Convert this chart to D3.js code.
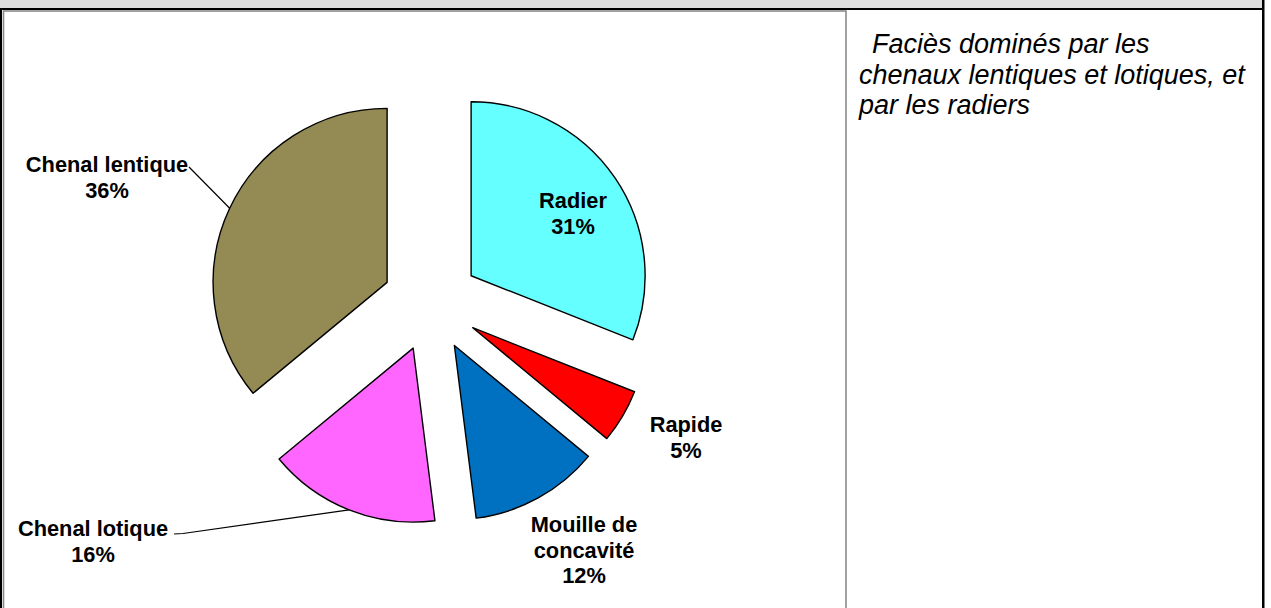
<!DOCTYPE html>
<html>
<head>
<meta charset="utf-8">
<script src="https://cdn.jsdelivr.net/npm/d3@7"></script>
<style>
  html, body { margin: 0; padding: 0; background: #ffffff; }
  svg { display: block; }
</style>
</head>
<body>
<svg id="chart" width="1271" height="608"></svg>
<script>
// Faciès d'écoulement : part de chaque type (en %)
const categories = ["Radier", "Rapide", "Mouille de concavité", "Chenal lotique", "Chenal lentique"];
const shares = [31, 5, 12, 16, 36];
const labelLines = [
  ["Radier", "31%"],
  ["Rapide", "5%"],
  ["Mouille de", "concavité", "12%"],
  ["Chenal lotique", "16%"],
  ["Chenal lentique", "36%"]
];
const sliceColors = ["#66FFFF", "#FF0000", "#0070C0", "#FF66FF", "#948A54"];
const noteLines = ["Faciès dominés par les", "chenaux lentiques et lotiques, et", "par les radiers"];

// Layout
const W = 1271, H = 608;
const cx = 431, cy = 303, radius = 174, explode = 48.5;
const labelFont = 21.8, labelLead = 25.5;
// label anchor (centre x, first baseline) relative to the pie centre, plus leader flag
const labelLayout = [
  { dx: 142, dy: -95, leader: null },
  { dx: 255, dy: 129, leader: null },
  { dx: 153, dy: 229, leader: null },
  { dx: -338, dy: 233, leader: { x: 174, y: 534, bend: 9 } },
  { dx: -324, dy: -131, leader: { x: 189, y: 167, bend: 0 } }
];
const noteX = [872, 859, 859];

const svg = d3.select("#chart");

// Frame: grey header band, black rules, chart area border
svg.append("rect").attr("x", 0).attr("y", 0).attr("width", 1262).attr("height", 8).attr("fill", "#dfdfdf");
svg.append("rect").attr("x", 0).attr("y", 8).attr("width", 1264).attr("height", 2).attr("fill", "#000");
svg.append("rect").attr("x", 0).attr("y", 8).attr("width", 2).attr("height", H).attr("fill", "#000");
svg.append("rect").attr("x", 1262).attr("y", 0).attr("width", 2.5).attr("height", H).attr("fill", "#000");
svg.append("rect").attr("x", 3.5).attr("y", 11).attr("width", 842.5).attr("height", H + 10)
  .attr("fill", "#fff").attr("stroke", "#8a8a8a").attr("stroke-width", 1.6);

// Pie
const pie = d3.pie().sort(null).value(d => d)(shares);
const arc = d3.arc().innerRadius(0).outerRadius(radius);
const mid = d => (d.startAngle + d.endAngle) / 2;
const offset = d => [explode * Math.sin(mid(d)), -explode * Math.cos(mid(d))];

const g = svg.append("g").attr("transform", `translate(${cx},${cy})`);

g.selectAll("path.slice")
  .data(pie)
  .join("path")
  .attr("class", "slice")
  .attr("transform", d => { const o = offset(d); return `translate(${o[0]},${o[1]})`; })
  .attr("d", arc)
  .attr("fill", (d, i) => sliceColors[i])
  .attr("stroke", "#000")
  .attr("stroke-width", 1.4)
  .attr("stroke-linejoin", "round");

// Leader lines: from label edge to the middle of the slice's outer arc
pie.forEach((d, i) => {
  const L = labelLayout[i].leader;
  if (!L) return;
  const o = offset(d);
  const ex = cx + o[0] + radius * Math.sin(mid(d));
  const ey = cy + o[1] - radius * Math.cos(mid(d));
  const pts = [[L.x, L.y]];
  if (L.bend) pts.push([L.x + L.bend, L.y - 0.5]);
  pts.push([ex, ey]);
  svg.append("path")
    .attr("d", d3.line()(pts))
    .attr("fill", "none")
    .attr("stroke", "#000")
    .attr("stroke-width", 1.2);
});

// Slice labels
pie.forEach((d, i) => {
  const lay = labelLayout[i];
  const t = svg.append("text")
    .attr("x", cx + lay.dx)
    .attr("y", cy + lay.dy)
    .attr("text-anchor", "middle")
    .attr("font-family", "'Liberation Sans', Arial, sans-serif")
    .attr("font-weight", "bold")
    .attr("font-size", labelFont)
    .attr("fill", "#000");
  labelLines[i].forEach((s, k) => {
    t.append("tspan").attr("x", cx + lay.dx).attr("dy", k === 0 ? 0 : labelLead).text(s);
  });
});

// Comment text box on the right
const note = svg.append("text")
  .attr("y", 53)
  .attr("font-family", "'Liberation Sans', Arial, sans-serif")
  .attr("font-style", "italic")
  .attr("font-size", 27)
  .attr("fill", "#000");
noteLines.forEach((s, k) => {
  note.append("tspan").attr("x", noteX[k]).attr("dy", k === 0 ? 0 : 30.5).text(s);
});
</script>
</body>
</html>
